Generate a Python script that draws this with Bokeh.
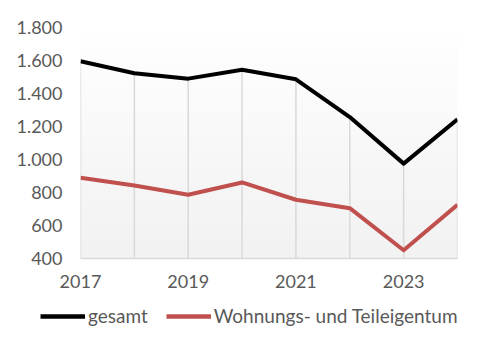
import numpy as np
from bokeh.plotting import figure
from bokeh.layouts import column
from bokeh.models import Legend, LegendItem, FixedTicker, CustomJSTickFormatter, Range1d
from bokeh.embed import file_html
from bokeh.resources import INLINE

years = [2017, 2018, 2019, 2020, 2021, 2022, 2023, 2024]
gesamt = [1595, 1523, 1490, 1544, 1486, 1257, 975, 1243]
wohnungs = [889, 843, 786, 861, 756, 705, 450, 726]
y_ticks = [400, 600, 800, 1000, 1200, 1400, 1600, 1800]
x_ticks = [2017, 2019, 2021, 2023]
series_names = ["gesamt", "Wohnungs- und Teileigentum"]
series_colors = ["black", "#c0504d"]

FONT = "Lato"
TXT = "#595959"
W = 469

p = figure(width=W, height=300, output_backend="svg", toolbar_location=None,
           x_range=Range1d(years[0], years[-1]), y_range=Range1d(y_ticks[0], y_ticks[-1]),
           min_border_left=80, min_border_right=12, min_border_top=27, min_border_bottom=42)
p.outline_line_color = None
p.background_fill_color = "white"
p.border_fill_color = "white"

# plot-area gradient (white at top -> light gray at bottom)
n = 64
g = np.linspace(242, 255, n)
img = np.zeros((n, 1), dtype=np.uint32)
view = img.view(dtype=np.uint8).reshape((n, 1, 4))
view[:, 0, 0] = g.astype(np.uint8)
view[:, 0, 1] = g.astype(np.uint8)
view[:, 0, 2] = g.astype(np.uint8)
view[:, 0, 3] = 255
p.image_rgba(image=[img], x=years[0], y=y_ticks[0], dw=years[-1] - years[0],
             dh=y_ticks[-1] - y_ticks[0], level="image")

# drop lines
p.segment(x0=years, y0=[y_ticks[0]] * len(years), x1=years, y1=gesamt,
          line_color="#d9d9d9", line_width=1.5)

p.line(years, gesamt, line_color=series_colors[0], line_width=4, line_join="round")
p.line(years, wohnungs, line_color=series_colors[1], line_width=4, line_join="round")

p.xgrid.visible = False
p.ygrid.visible = False

p.xaxis.ticker = FixedTicker(ticks=x_ticks)
p.yaxis.ticker = FixedTicker(ticks=y_ticks)
p.yaxis.formatter = CustomJSTickFormatter(code="""
    return tick.toString().replace(/\\B(?=(\\d{3})+(?!\\d))/g, '.');
""")
for ax in (p.xaxis[0], p.yaxis[0]):
    ax.major_tick_line_color = None
    ax.minor_tick_line_color = None
    ax.major_label_text_font = FONT
    ax.major_label_text_font_size = "18px"
    ax.major_label_text_color = TXT
p.yaxis.axis_line_color = None
p.xaxis.axis_line_color = "#d9d9d9"
p.xaxis.axis_line_width = 1.5
p.yaxis.major_label_standoff = 12
p.xaxis.major_label_standoff = 10

# legend strip below the chart
lf = figure(width=W, height=48, output_backend="svg", toolbar_location=None,
            x_range=Range1d(0, 1), y_range=Range1d(0, 1),
            min_border=0)
lf.frame_align = False
lf.axis.visible = False
lf.grid.visible = False
lf.outline_line_color = None
items = []
for name, col in zip(series_names, series_colors):
    r = lf.line([np.nan, np.nan], [np.nan, np.nan], line_color=col, line_width=4.5)
    items.append(LegendItem(label=name, renderers=[r]))
legend = Legend(items=items, orientation="horizontal", location=(40, 21))
legend.label_text_font = FONT
legend.label_text_font_size = "19px"
legend.label_text_color = TXT
legend.glyph_width = 45
legend.label_standoff = 3
legend.spacing = 18
legend.border_line_color = None
legend.background_fill_alpha = 0
legend.padding = 0
legend.margin = 0
lf.add_layout(legend, "center")

open("out.html", "w").write(file_html(column(p, lf, spacing=0), INLINE))
